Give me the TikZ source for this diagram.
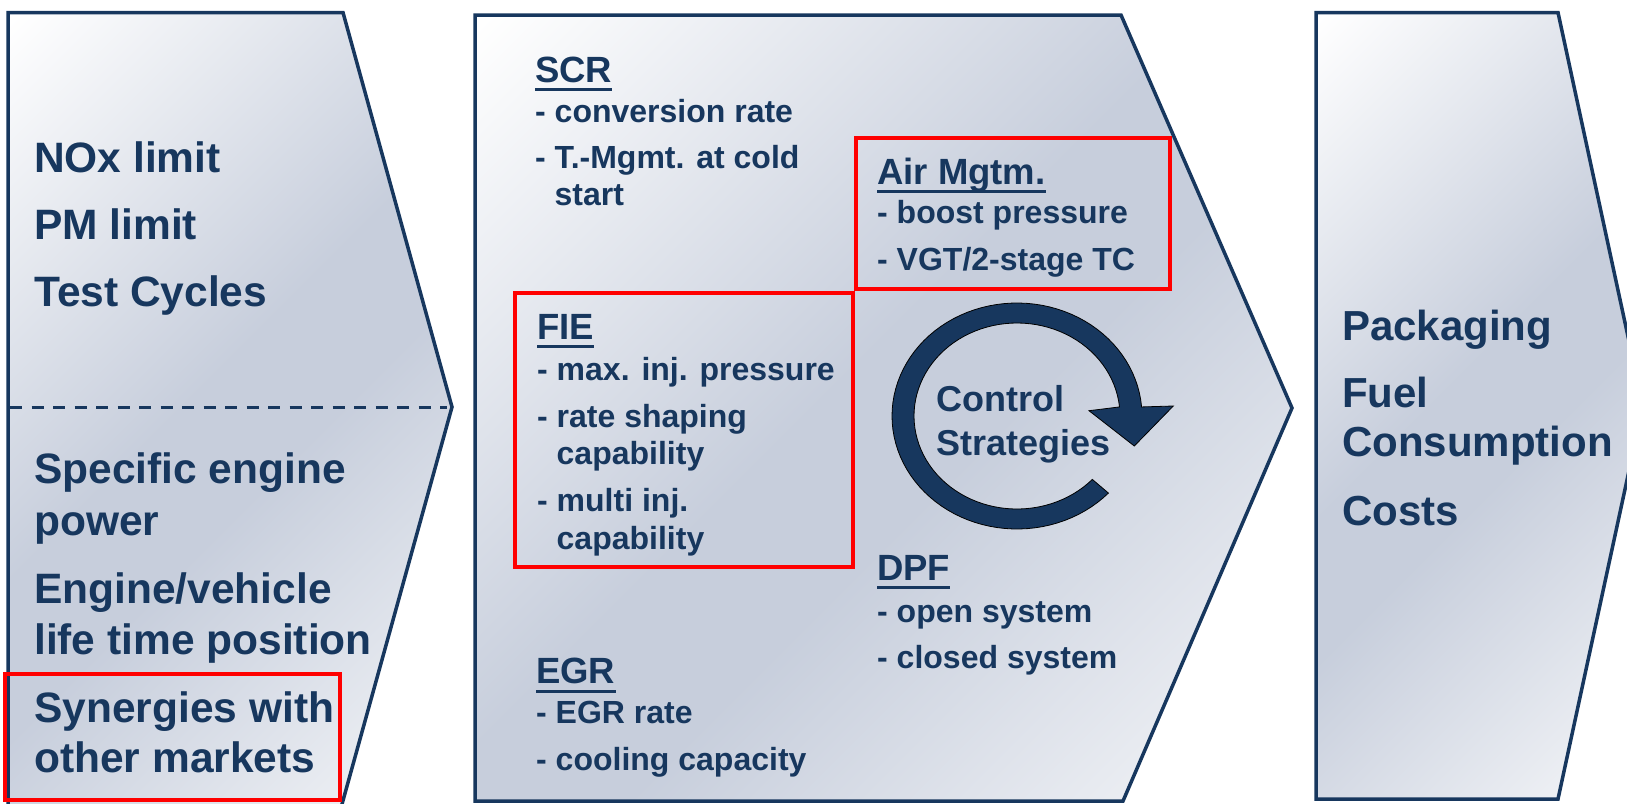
\documentclass[tikz,border=0pt]{standalone}
\usepackage{fontspec}
\setmainfont{Liberation Sans}
\usetikzlibrary{calc}
\definecolor{navy}{HTML}{17375E}
\definecolor{steel}{HTML}{C7CEDC}
\definecolor{pale}{HTML}{F7F8FA}
\pgfdeclarehorizontalshading{chevshade}{100bp}{color(0bp)=(white); color(15bp)=(white); color(47bp)=(steel); color(56bp)=(steel); color(86bp)=(pale); color(100bp)=(pale)}
\begin{document}
\begin{tikzpicture}[x=1pt,y=-1pt,
  chev/.style={draw=navy, line width=3.5pt, line join=miter, shade, shading=chevshade, shading angle=-45},
  redbox/.style={draw=red, line width=3.5pt},
  big/.style={anchor=base west, inner sep=0pt, text=navy, font=\fontsize{42.5}{50}\selectfont\bfseries},
  rbig/.style={anchor=base west, inner sep=0pt, text=navy, font=\fontsize{42}{50}\selectfont\bfseries},
  head/.style={anchor=base west, inner sep=0pt, text=navy, font=\fontsize{36.5}{42}\selectfont\bfseries},
  item/.style={anchor=base west, inner sep=0pt, text=navy, font=\fontsize{32}{38}\selectfont\bfseries},
  ctext/.style={anchor=base west, inner sep=0pt, text=navy, font=\fontsize{36}{42}\selectfont\bfseries},
  uline/.style={draw=navy, line width=3pt},
]
\useasboundingbox (0,0) rectangle (1627,803);
\clip (0,0) rectangle (1627,803);

% chevrons
\path[chev] (8,12.5) -- (343,12.5) -- (452,407) -- (339,815) -- (8,815) -- cycle;
\path[chev] (475,15) -- (1121,15) -- (1292,408) -- (1123,801) -- (475,801) -- cycle;
\path[chev] (1316,12.5) -- (1558,12.5) -- (1643,406) -- (1558,799) -- (1316,799) -- cycle;

% dashed separator
\coordinate (dashL) at (10,407);
\coordinate (dashR) at (447,407);
\draw[navy, line width=3pt, dash pattern=on 12pt off 9.5pt] (dashL) -- (dashR);

% red boxes
\draw[redbox] (5,674) rectangle (340,800);
\draw[redbox] (856,138) rectangle (1170,289);
\draw[redbox] (515,293) rectangle (853,567);

% left texts
\node[big] (nox) at (34,172.7) {NOx limit};
\node[big] (pm) at (34,239.3) {PM limit};
\node[big] (tc) at (34,306) {Test Cycles};
\node[big] (sp1) at (34,483) {Specific engine};
\node[big] (sp2) at (34,535) {power};
\node[big] (ev1) at (34,603) {Engine/vehicle};
\node[big] (ev2) at (34,654) {life time position};
\node[big] (sy1) at (34,722) {Synergies with};
\node[big] (sy2) at (34,772) {other markets};

% right texts
\node[rbig] (pack) at (1342,340.5) {Packaging};
\node[rbig] (fuel) at (1342,407) {Fuel};
\node[rbig] (cons) at (1342,456) {Consumption};
\node[rbig] (cost) at (1342,525) {Costs};

% SCR
\node[head] (scr) at (535,82) {SCR};
\draw[uline] ($(scr.base west)+(0,7)$) -- ($(scr.base east)+(0,7)$);
\node[item] (scr1) at (535,122) {- conversion rate};
\node[item] (scr2) at (535,168) {- T.-Mgmt. at cold};
\node[item] (scr3) at (554.5,205) {start};

% Air
\node[head] (air) at (877,184) {Air Mgtm.};
\draw[uline] ($(air.base west)+(0,7)$) -- ($(air.base east)+(0,7)$);
\node[item] (air1) at (877,223) {- boost pressure};
\node[item] (air2) at (877,270) {- VGT/2-stage TC};

% FIE
\node[head] (fie) at (537,339) {FIE};
\draw[uline] ($(fie.base west)+(0,7)$) -- ($(fie.base east)+(0,7)$);
\node[item] (fie1) at (537,380) {- max. inj. pressure};
\node[item] (fie2) at (537,427) {- rate shaping};
\node[item] (fie3) at (556.5,464) {capability};
\node[item] (fie4) at (537,511) {- multi inj.};
\node[item] (fie5) at (556.5,549) {capability};

% DPF
\node[head] (dpf) at (877,580) {DPF};
\draw[uline] ($(dpf.base west)+(0,7.5)$) -- ($(dpf.base east)+(0,7.5)$);
\node[item] (dpf1) at (877,622) {- open system};
\node[item] (dpf2) at (877,668) {- closed system};

% EGR
\node[head] (egr) at (536,683) {EGR};
\draw[uline] ($(egr.base west)+(0,8)$) -- ($(egr.base east)+(0,8)$);
\node[item] (egr1) at (536,723) {- EGR rate};
\node[item] (egr2) at (536,770) {- cooling capacity};

% circular arrow
\fill[navy, draw=black, line width=0.8pt, line join=miter]
  plot[domain=43:355.4, samples=90] ({1017+125*cos(\x)},{416+113*sin(\x)})
  -- (1173.3,406) -- (1134.3,446) -- (1089,410.7)
  -- plot[domain=354.4:43, samples=90] ({1017+103*cos(\x)},{416+93*sin(\x)})
  -- cycle;
\node[ctext] (ctl) at (936,411.7) {Control};
\node[ctext] (str) at (936,455) {Strategies};
\end{tikzpicture}
\end{document}
